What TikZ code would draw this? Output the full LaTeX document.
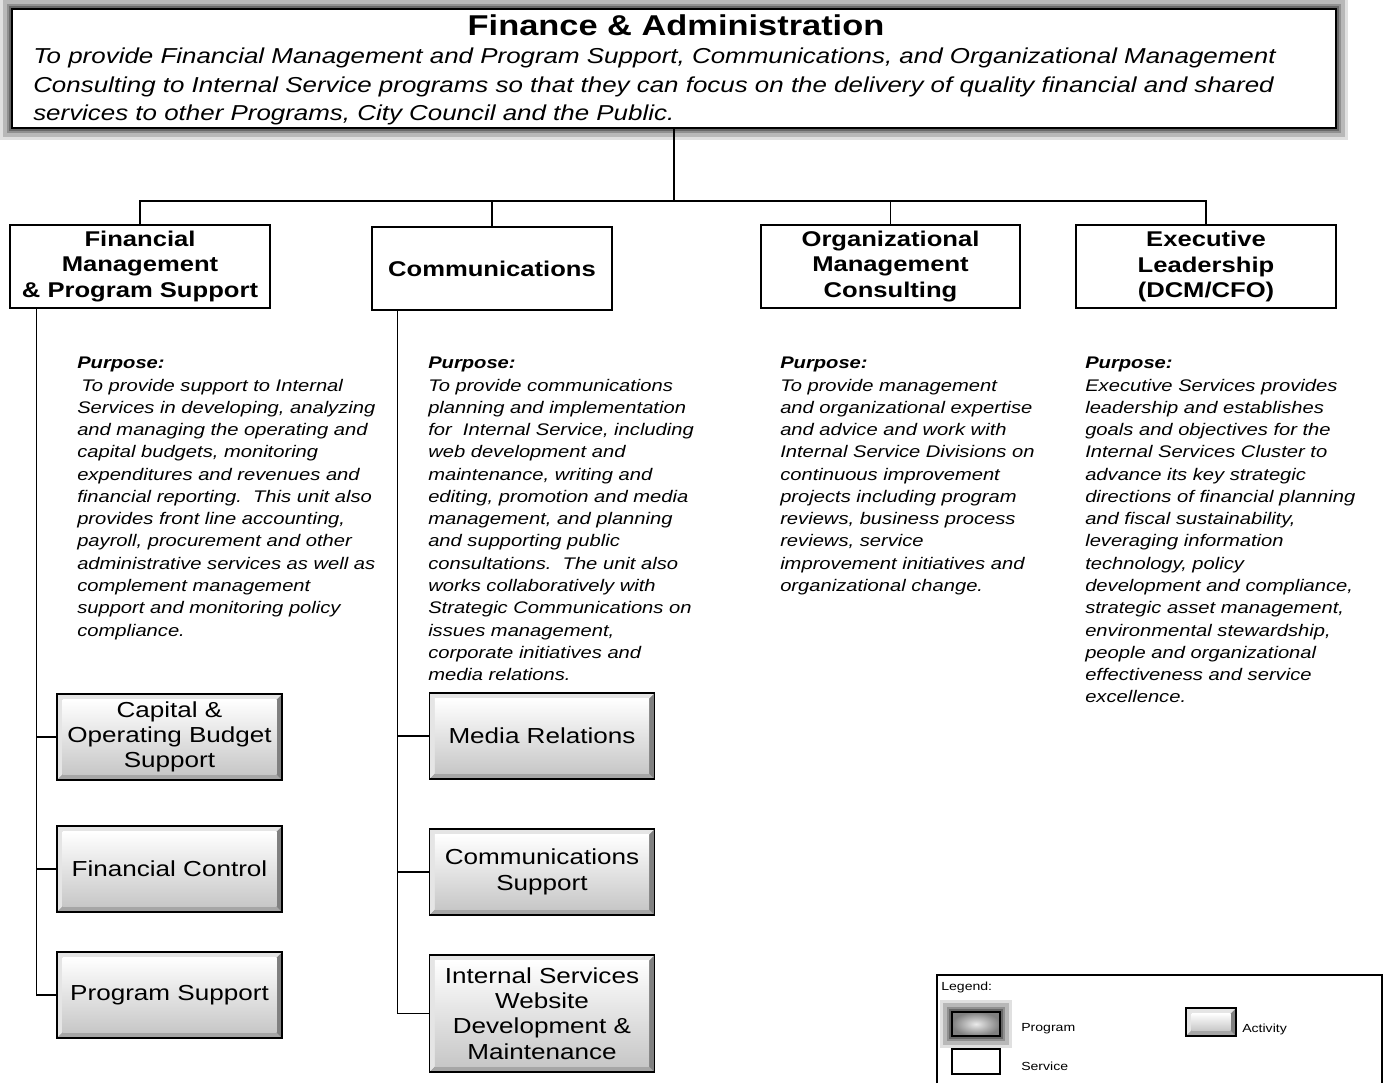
\documentclass[tikz,border=0pt]{standalone}
\usepackage{fontspec}
\setmainfont{Liberation Sans}[FakeStretch=1.2]
\usepackage{xcolor}
\usepackage{tikz}
\usetikzlibrary{shapes,arrows,positioning}

\newdimen\pxu
\pxu=0.75pt

\tikzset{
    program/.style={
        draw,
        fill=white,
        line width=1.5pt,
        preaction={draw=black, opacity=0.12, line width=18pt},
        preaction={draw=black, opacity=0.18, line width=13pt},
        preaction={draw=black, opacity=0.22, line width=8pt},
        preaction={draw=black, opacity=0.28, line width=4pt}
    },
    service/.style={
        draw,
        fill=white,
        line width=1.1pt,
        minimum height=83\pxu,
        align=center,
        font=\fontsize{16}{19.1}\selectfont\bfseries
    },
    activity/.style={
        draw,
        line width=1.3pt,
        fill=black!50,
        minimum width=225\pxu,
        minimum height=86\pxu,
        align=center,
        font=\fontsize{16.3}{19}\selectfont,
        path picture={
            \coordinate (pnw) at (path picture bounding box.north west);
            \coordinate (pne) at (path picture bounding box.north east);
            \coordinate (psw) at (path picture bounding box.south west);
            \coordinate (pse) at (path picture bounding box.south east);
            \fill[black!10] (pnw) -- (pne) -- ([shift={(-4pt,-4pt)}]pne)
                -- ([shift={(4pt,-4pt)}]pnw) -- ([shift={(4pt,4pt)}]psw) -- (psw) -- cycle;
            \fill[black!35] (psw) -- ([shift={(4pt,4pt)}]psw)
                -- ([shift={(-4pt,4pt)}]pse) -- (pse) -- cycle;
            \shade[top color=white, bottom color=black!22]
                ([shift={(4pt,-4pt)}]pnw) rectangle ([shift={(-4pt,4pt)}]pse);
        }
    },
    purpose/.style={
        anchor=north west,
        inner sep=0pt,
        align=left,
        font=\fontsize{12.6}{16.7}\selectfont\itshape
    },
    link/.style={line width=1pt},
    trunk/.style={line width=1.8pt},
    legtext/.style={anchor=west, inner sep=0pt, font=\fontsize{8.8}{10}\selectfont}
}

\begin{document}
\begin{tikzpicture}[x=0.75pt, y=-0.75pt]
    \useasboundingbox (0,0) rectangle (1390,1083);

    \node[program, minimum width=1324\pxu, minimum height=119\pxu] (fa) at (674,68.5) {};
    \node[font=\fontsize{21.5}{25}\selectfont\bfseries] (fatitle) at (676,25) {Finance \& Administration};
    \node[anchor=north west, inner sep=0pt, align=left,
          font=\fontsize{16.2}{21.4}\selectfont\itshape] (fadesc) at (33,48)
        {To provide Financial Management and Program Support, Communications, and Organizational Management\\
         Consulting to Internal Service programs so that they can focus on the delivery of quality financial and shared\\
         services to other Programs, City Council and the Public.};

    \node[service, minimum width=260\pxu] (fmps) at (140,266.5) {Financial\\Management\\\& Program Support};
    \node[service, minimum width=240\pxu] (comm) at (492,268.5) {Communications};
    \node[service, minimum width=259\pxu] (omc) at (890.5,266.5) {Organizational\\Management\\Consulting};
    \node[service, minimum width=260\pxu] (exec) at (1206,266.5) {Executive\\Leadership\\(DCM/CFO)};

    \draw[trunk] (fa.south) -- ++(0,72) coordinate (hub);
    \draw[link] (fmps.north) |- (hub) -| (exec.north);
    \draw[link] (comm.north) -- (comm.north |- hub);
    \draw[link] (omc.north) -- (omc.north |- hub);

    \node[purpose] (fmpurp) at (77,357)
        {\textbf{Purpose:}\\
         \hspace*{0.25em}To provide support to Internal\\
         Services in developing, analyzing\\
         and managing the operating and\\
         capital budgets, monitoring\\
         expenditures and revenues and\\
         financial reporting.\ \ This unit also\\
         provides front line accounting,\\
         payroll, procurement and other\\
         administrative services as well as\\
         complement management\\
         support and monitoring policy\\
         compliance.};
    \node[purpose] (commpurp) at (428,357)
        {\textbf{Purpose:}\\
         To provide communications\\
         planning and implementation\\
         for\ \ Internal Service, including\\
         web development and\\
         maintenance, writing and\\
         editing, promotion and media\\
         management, and planning\\
         and supporting public\\
         consultations.\ \ The unit also\\
         works collaboratively with\\
         Strategic Communications on\\
         issues management,\\
         corporate initiatives and\\
         media relations.};
    \node[purpose] (omcpurp) at (780,357)
        {\textbf{Purpose:}\\
         To provide management\\
         and organizational expertise\\
         and advice and work with\\
         Internal Service Divisions on\\
         continuous improvement\\
         projects including program\\
         reviews, business process\\
         reviews, service\\
         improvement initiatives and\\
         organizational change.};
    \node[purpose] (execpurp) at (1085,357)
        {\textbf{Purpose:}\\
         Executive Services provides\\
         leadership and establishes\\
         goals and objectives for the\\
         Internal Services Cluster to\\
         advance its key strategic\\
         directions of financial planning\\
         and fiscal sustainability,\\
         leveraging information\\
         technology, policy\\
         development and compliance,\\
         strategic asset management,\\
         environmental stewardship,\\
         people and organizational\\
         effectiveness and service\\
         excellence.};

    \node[activity] (cap) at (169.5,737) {Capital \&\\Operating Budget\\Support};
    \node[activity] (finctl) at (169.5,869) {Financial Control};
    \node[activity] (progsup) at (169.5,995) {Program Support};
    \node[activity] (media) at (542,736) {Media Relations};
    \node[activity] (commsup) at (542,872) {Communications\\Support};
    \node[activity, minimum height=117\pxu] (web) at (542,1013.5)
        {Internal Services\\Website\\Development \&\\Maintenance};

    \coordinate (fmbus) at ([xshift=27\pxu]fmps.south west);
    \draw[link] (fmbus) |- (progsup.west);
    \draw[link] (cap.west) -- (cap.west -| fmbus);
    \draw[link] (finctl.west) -- (finctl.west -| fmbus);

    \coordinate (commbus) at ([xshift=26\pxu]comm.south west);
    \draw[link] (commbus) |- (web.west);
    \draw[link] (media.west) -- (media.west -| commbus);
    \draw[link] (commsup.west) -- (commsup.west -| commbus);

    \draw[line width=0.8pt] (937,1083) |- (1382,975) -- (1382,1083);
    \node[legtext] (leglabel) at (941,987) {Legend:};
    \node[program, inner color=black!8, outer color=black!50,
          minimum width=48\pxu, minimum height=24\pxu] (legprog) at (976,1024) {};
    \node[legtext] (legprogtxt) at (1021,1029) {Program};
    \node[activity, line width=1pt, minimum width=50\pxu, minimum height=28\pxu] (legact) at (1211,1022) {};
    \node[legtext] (legacttxt) at (1242,1029) {Activity};
    \node[draw, line width=0.9pt, minimum width=48\pxu, minimum height=25\pxu] (legsvc) at (976,1061.5) {};
    \node[legtext] (legsvctxt) at (1021,1066) {Service};
\end{tikzpicture}
\end{document}
